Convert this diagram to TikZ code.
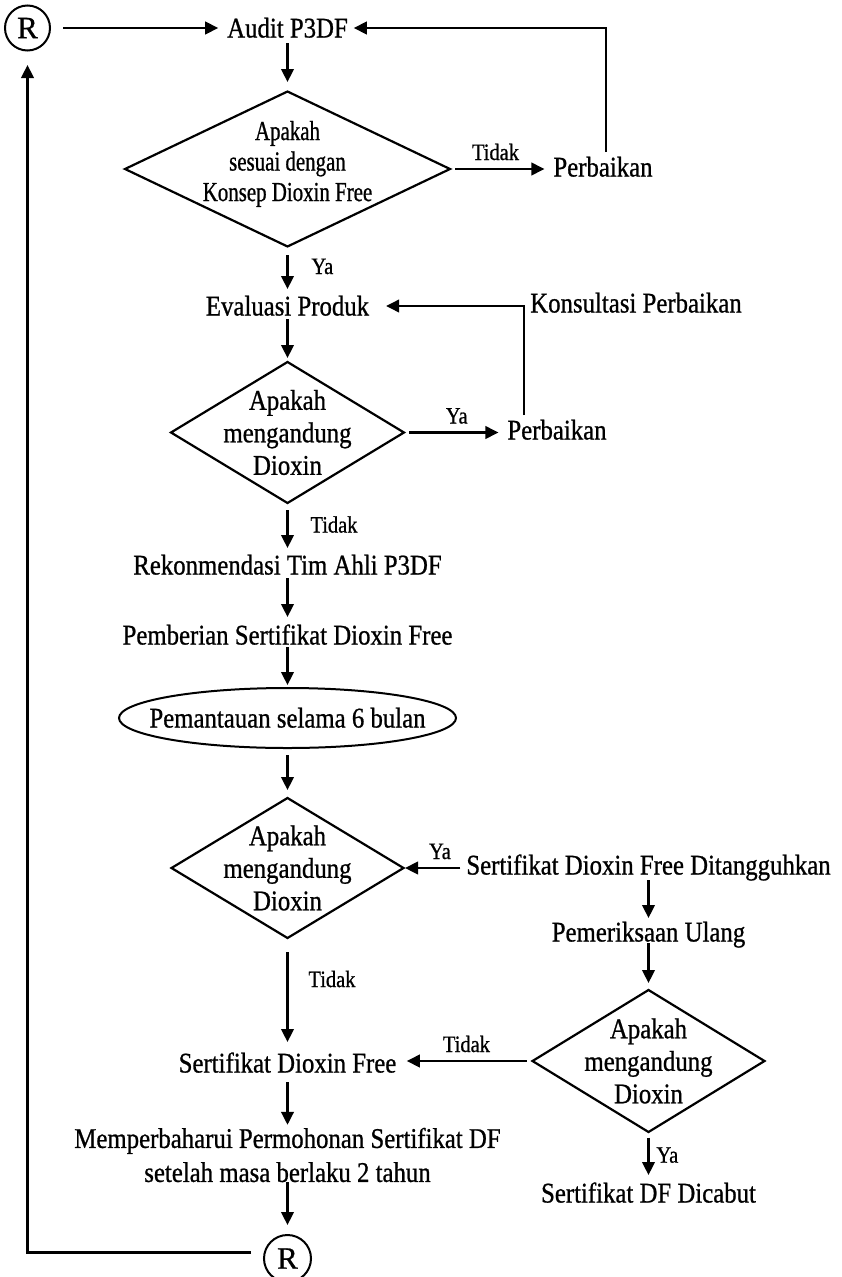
\documentclass[tikz,border=0pt]{standalone}
\usepackage{fontspec}
\setmainfont{Liberation Serif}[FakeStretch=0.87,FakeBold=0.8]
\newfontfamily\narrowserif{Liberation Serif}[FakeStretch=0.76,FakeBold=0.8]
\newfontfamily\plainserif{Liberation Serif}[FakeBold=0.8]
\usetikzlibrary{shapes.geometric,arrows.meta}

\begin{document}
\begin{tikzpicture}[x=1pt,y=-1pt,
  every node/.style={inner sep=0pt, outer sep=0pt},
  txt/.style={text height=19pt, text depth=0pt, font=\fontsize{28.5}{32.5}\selectfont},
  lbl/.style={text height=15pt, text depth=0pt, font=\fontsize{23.5}{26}\selectfont},
  decision/.style={diamond, draw, line width=2.2pt, align=center, aspect=2,
    inner xsep=-40pt, inner ysep=-30pt, font=\fontsize{28.5}{32.5}\selectfont},
  terminal/.style={ellipse, draw, line width=2pt, inner xsep=-80pt, inner ysep=-10pt},
  conn/.style={circle, draw, line width=2pt, minimum size=45pt,
    font=\plainserif\fontsize{31}{34}\selectfont},
  flow/.style={line width=2.4pt, -{Triangle[length=13pt,width=12.5pt]}},
]
\useasboundingbox (0,0) rectangle (841,1277);

% ---- nodes ----
\node[conn] (r1) at (27.5,28) {R};
\node[txt] (audit) at (287.5,28) {Audit P3DF};
\node[decision, minimum width=325pt, minimum height=155pt,
      font=\narrowserif\fontsize{27.5}{30.5}\selectfont] (d1) at (287.5,169)
      {Apakah\\sesuai dengan\\Konsep Dioxin Free\rule[-16pt]{0pt}{0pt}};
\node[txt] (perb1) at (603,167) {Perbaikan};
\node[txt] (evalp) at (287.5,306) {Evaluasi Produk};
\node[decision, minimum width=233pt, minimum height=141pt] (d2) at (287.5,432.5)
      {Apakah\\mengandung\\Dioxin};
\node[txt] (perb2) at (557,430) {Perbaikan};
\node[txt] (kons) at (636,303) {Konsultasi Perbaikan};
\node[txt] (rek) at (287.5,565) {Rekonmendasi Tim Ahli P3DF};
\node[txt] (pemb) at (287.5,635) {Pemberian Sertifikat Dioxin Free};
\node[terminal, txt, minimum width=337pt, minimum height=60pt] (pant) at (287.5,718)
      {Pemantauan selama 6 bulan};
\node[decision, minimum width=232pt, minimum height=140pt] (d3) at (287.5,868)
      {Apakah\\mengandung\\Dioxin};
\node[txt] (ditang) at (648.5,865) {Sertifikat Dioxin Free Ditangguhkan};
\node[txt] (periksa) at (648.5,932) {Pemeriksaan Ulang};
\node[decision, minimum width=232pt, minimum height=142pt] (d4) at (648.5,1061)
      {Apakah\\mengandung\\Dioxin};
\node[txt] (cabut) at (648.5,1193) {Sertifikat DF Dicabut};
\node[txt] (sdf) at (287.5,1063) {Sertifikat Dioxin Free};
\node[align=center, font=\fontsize{28.5}{34}\selectfont] (renew) at (287.5,1155)
      {Memperbaharui Permohonan Sertifikat DF\\setelah masa berlaku 2 tahun};
\node[conn, minimum size=47pt] (r2) at (287.5,1258.5) {R};

% ---- connectors ----
\draw[flow, shorten <=13pt, shorten >=9pt] (r1.east) -- (audit.west);
\draw[flow, shorten <=5.5pt, shorten >=6pt] ([xshift=3pt]perb1.north) |- (audit.east);
\draw[flow, shorten <=5.5pt, shorten >=9.5pt] (audit.south) -- (d1.north);
\draw[flow, shorten <=5pt, shorten >=9pt] (d1.east) --
      node[lbl, above=9pt, pos=0.44] (t1) {Tidak} (d1.east -| perb1.west);
\draw[flow, shorten <=8.5pt, shorten >=7.5pt] (d1.south) --
      node[lbl, right=24pt, pos=0.4] (y1) {Ya} (evalp.north);
\draw[flow, shorten <=3.5pt, shorten >=4pt] (evalp.south) -- (d2.north);
\draw[flow, shorten <=5pt, shorten >=9pt] (d2.east) --
      node[lbl, above=9pt, pos=0.51] (y2) {Ya} (d2.east -| perb2.west);
\draw[flow, shorten <=5.5pt, shorten >=17pt] ([xshift=-33pt]perb2.north) |- (evalp.east);
\draw[flow, shorten <=7pt, shorten >=7.5pt] (d2.south) --
      node[lbl, right=23pt, pos=0.42] (t2) {Tidak} (rek.north);
\draw[flow, shorten <=3.5pt, shorten >=8.5pt] (rek.south) -- (pemb.north);
\draw[flow, shorten <=2.5pt, shorten >=3pt] (pemb.south) -- (pant.north);
\draw[flow, shorten <=7pt, shorten >=8pt] (pant.south) -- (d3.north);
\draw[flow, shorten <=6pt, shorten >=1.5pt] (d3.east -| ditang.west) --
      node[lbl, above=9pt, pos=0.42] (y3) {Ya} (d3.east);
\draw[flow, shorten <=5.5pt, shorten >=4.5pt] (ditang.south) -- (periksa.north);
\draw[flow, shorten <=1.5pt, shorten >=7pt] (periksa.south) -- (d4.north);
\draw[flow, shorten <=6pt, shorten >=10.5pt] (d4.west) --
      node[lbl, above=9pt, pos=0.485] (t4) {Tidak} (d4.west -| sdf.east);
\draw[flow, shorten <=14pt, shorten >=11.5pt] (d3.south) --
      node[lbl, right=21pt, pos=0.36] (t3) {Tidak} (sdf.north);
\draw[flow, shorten <=9.5pt, shorten >=3pt] (sdf.south) -- (renew.north);
\draw[flow, shorten >=10pt] (renew.south) -- (r2.north);
\draw[flow, shorten <=5.5pt, shorten >=8.5pt] (d4.south) --
      node[lbl, right=8pt, pos=0.45] (y4) {Ya} (cabut.north);
\draw[flow, shorten <=13pt, shorten >=14.5pt] ([yshift=6pt]r2.west) -| (r1.south);
\end{tikzpicture}
\end{document}
